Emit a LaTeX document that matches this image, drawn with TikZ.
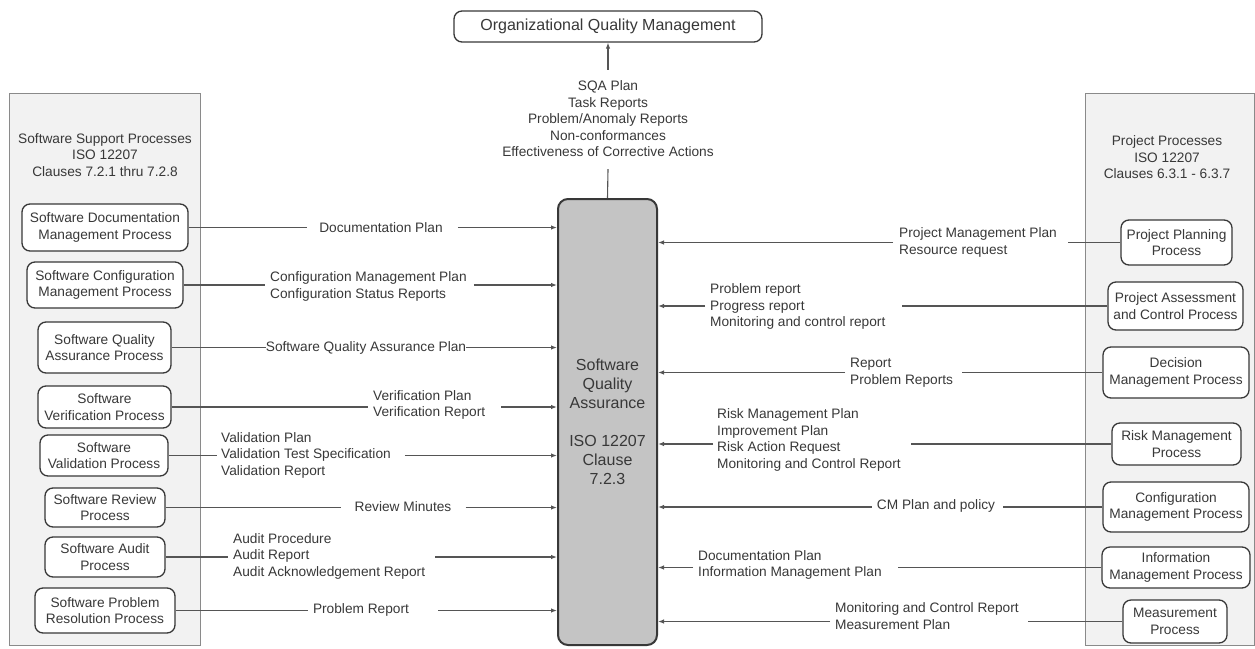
\documentclass[tikz,border=0pt]{standalone}
\usepackage{fontspec}
\setmainfont{Liberation Sans}
\usetikzlibrary{arrows.meta}

\definecolor{ink}{HTML}{383838}
\definecolor{wirecol}{HTML}{555555}
\definecolor{panelfill}{HTML}{F2F2F2}
\definecolor{panelline}{HTML}{8A8A8A}
\definecolor{corefill}{HTML}{C4C4C4}

\tikzset{
  every node/.style={font=\fontsize{13.7}{16.5}\selectfont, text=ink},
  bigtext/.style={font=\fontsize{16}{19}\selectfont},
  proc/.style={draw=ink, line width=1.3pt, rounded corners=8pt, fill=white,
    align=center, inner sep=0pt},
  panel/.style={draw=panelline, line width=1pt, fill=panelfill, inner sep=0pt},
  lab/.style={inner sep=0pt, align=left},
  clab/.style={inner sep=0pt, align=center},
  wire/.style={draw=wirecol, line width=1.1pt},
  flow/.style={wire, -{Latex[length=6pt,width=4.5pt]}},
}

\begin{document}
\begin{tikzpicture}[x=1pt, y=-1pt]
\useasboundingbox (0,0) rectangle (1255,648);

% side panels
\node[panel, minimum width=191pt, minimum height=552pt] (lpanel) at (104.5,369) {};
\node[panel, minimum width=169pt, minimum height=552pt] (rpanel) at (1169.5,369) {};
\node[clab] (ltitle) at (105,155) {Software Support Processes\\ISO 12207\\Clauses 7.2.1 thru 7.2.8};
\node[clab] (rtitle) at (1167,157.5) {Project Processes\\ISO 12207\\Clauses 6.3.1 - 6.3.7};

% central process
\node[draw=ink, line width=2pt, fill=corefill, rounded corners=10pt,
  minimum width=99pt, minimum height=446pt, align=center, inner sep=0pt, bigtext]
  (sqa) at (607.5,422) {Software\\Quality\\Assurance\\[19pt]ISO 12207\\Clause\\7.2.3};

% organisational level
\node[proc, bigtext, minimum width=308pt, minimum height=31pt] (oqm) at (608,26.5)
  {Organizational Quality Management};
\node[clab] (toplab) at (608,119) {SQA Plan\\Task Reports\\Problem/Anomaly Reports\\Non-conformances\\Effectiveness of Corrective Actions};
\draw[wire] (sqa.north) -- ([yshift=-12pt]toplab.south);
\draw[flow] ([yshift=11pt]toplab.north) -- (oqm.south);

% software support processes
\node[proc, minimum width=166pt, minimum height=47pt] (L1) at (105,227.5) {Software Documentation\\Management Process};
\node[proc, minimum width=156pt, minimum height=46pt] (L2) at (105,285) {Software Configuration\\Management Process};
\node[proc, minimum width=133pt, minimum height=51pt] (L3) at (104.5,347.5) {Software Quality\\Assurance Process};
\node[proc, minimum width=133pt, minimum height=42pt] (L4) at (104.5,407) {Software\\Verification Process};
\node[proc, minimum width=128pt, minimum height=41pt] (L5) at (104,455.5) {Software\\Validation Process};
\node[proc, minimum width=120pt, minimum height=39pt] (L6) at (105,507.5) {Software Review\\Process};
\node[proc, minimum width=120pt, minimum height=40pt] (L7) at (105,557) {Software Audit\\Process};
\node[proc, minimum width=140pt, minimum height=45pt] (L8) at (105,610.5) {Software Problem\\Resolution Process};

\node[clab] (la1) at (381,227.5) {Documentation Plan};
\node[lab, anchor=west] (la2) at (270,286.5) {Configuration Management Plan\\Configuration Status Reports};
\node[clab] (la3) at (366,348) {Software Quality Assurance Plan};
\node[lab, anchor=west] (la4) at (373,405) {Verification Plan\\Verification Report};
\node[lab, anchor=west] (la5) at (221,455) {Validation Plan\\Validation Test Specification\\Validation Report};
\node[clab] (la6) at (403,507) {Review Minutes};
\node[lab, anchor=west] (la7) at (233,556) {Audit Procedure\\Audit Report\\Audit Acknowledgement Report};
\node[clab] (la8) at (361,610) {Problem Report};

\draw[wire] (L1.east) -- ([xshift=-12pt]la1.west |- L1.east);
\draw[flow] ([xshift=15pt]la1.east |- L1.east) -- (sqa.west |- L1.east);
\draw[wire] (L2.east) -- ([xshift=-5pt]la2.west |- L2.east);
\draw[flow] ([xshift=7pt]la2.east |- L2.east) -- (sqa.west |- L2.east);
\draw[wire] (L3.east) -- (la3.west |- L3.east);
\draw[flow] (la3.east |- L3.east) -- (sqa.west |- L3.east);
\draw[wire] (L4.east) -- ([xshift=-5pt]la4.west |- L4.east);
\draw[flow] ([xshift=16pt]la4.east |- L4.east) -- (sqa.west |- L4.east);
\draw[wire] (L5.east) -- ([xshift=-4pt]la5.west |- L5.east);
\draw[flow] ([xshift=14pt]la5.east |- L5.east) -- (sqa.west |- L5.east);
\draw[wire] (L6.east) -- ([xshift=-13pt]la6.west |- L6.east);
\draw[flow] ([xshift=14pt]la6.east |- L6.east) -- (sqa.west |- L6.east);
\draw[wire] (L7.east) -- ([xshift=-5pt]la7.west |- L7.east);
\draw[flow] ([xshift=10pt]la7.east |- L7.east) -- (sqa.west |- L7.east);
\draw[wire] (L8.east) -- ([xshift=-5pt]la8.west |- L8.east);
\draw[flow] ([xshift=29pt]la8.east |- L8.east) -- (sqa.west |- L8.east);

% project processes
\node[proc, minimum width=111pt, minimum height=45pt] (R1) at (1176.5,242.5) {Project Planning\\Process};
\node[proc, minimum width=135pt, minimum height=48pt] (R2) at (1175.5,306) {Project Assessment\\and Control Process};
\node[proc, minimum width=146pt, minimum height=51pt] (R3) at (1176,372.5) {Decision\\Management Process};
\node[proc, minimum width=129pt, minimum height=42pt] (R4) at (1176.5,444) {Risk Management\\Process};
\node[proc, minimum width=146pt, minimum height=50pt] (R5) at (1176,507) {Configuration\\Management Process};
\node[proc, minimum width=148pt, minimum height=41pt] (R6) at (1176,567.5) {Information\\Management Process};
\node[proc, minimum width=104pt, minimum height=43pt] (R7) at (1175,621.5) {Measurement\\Process};

\node[lab, anchor=west] (ra1) at (899,242.5) {Project Management Plan\\Resource request};
\node[lab, anchor=west] (ra2) at (710,306.5) {Problem report\\Progress report\\Monitoring and control report};
\node[lab, anchor=west] (ra3) at (850,372.5) {Report\\Problem Reports};
\node[lab, anchor=west] (ra4) at (717,440) {Risk Management Plan\\Improvement Plan\\Risk Action Request\\Monitoring and Control Report};
\node[clab] (ra5) at (936,506) {CM Plan and policy};
\node[lab, anchor=west] (ra6) at (698,565) {Documentation Plan\\Information Management Plan};
\node[lab, anchor=west] (ra7) at (835,616) {Monitoring and Control Report\\Measurement Plan};

\draw[wire] (R1.west) -- ([xshift=11pt]ra1.east |- R1.west);
\draw[flow] ([xshift=-6pt]ra1.west |- R1.west) -- (sqa.east |- R1.west);
\draw[wire] (R2.west) -- ([xshift=16pt]ra2.east |- R2.west);
\draw[flow] ([xshift=-5pt]ra2.west |- R2.west) -- (sqa.east |- R2.west);
\draw[wire] (R3.west) -- ([xshift=9pt]ra3.east |- R3.west);
\draw[flow] ([xshift=-5pt]ra3.west |- R3.west) -- (sqa.east |- R3.west);
\draw[wire] (R4.west) -- ([xshift=10pt]ra4.east |- R4.west);
\draw[flow] ([xshift=-4pt]ra4.west |- R4.west) -- (sqa.east |- R4.west);
\draw[wire] (R5.west) -- ([xshift=8pt]ra5.east |- R5.west);
\draw[flow] ([xshift=-5pt]ra5.west |- R5.west) -- (sqa.east |- R5.west);
\draw[wire] (R6.west) -- ([xshift=16pt]ra6.east |- R6.west);
\draw[flow] ([xshift=-5pt]ra6.west |- R6.west) -- (sqa.east |- R6.west);
\draw[wire] (R7.west) -- ([xshift=9pt]ra7.east |- R7.west);
\draw[flow] ([xshift=-5pt]ra7.west |- R7.west) -- (sqa.east |- R7.west);
\end{tikzpicture}
\end{document}
